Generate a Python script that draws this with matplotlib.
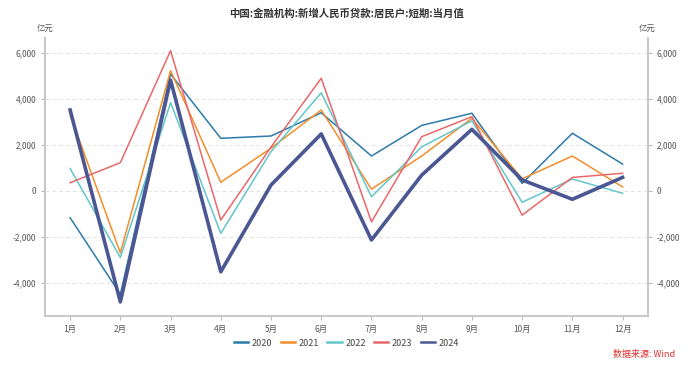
import matplotlib
matplotlib.use("Agg")
import matplotlib.pyplot as plt
from matplotlib.lines import Line2D
import numpy as np

plt.rcParams['font.family'] = ['Noto Sans CJK SC', 'DejaVu Sans']

months = ["1月", "2月", "3月", "4月", "5月", "6月", "7月", "8月", "9月", "10月", "11月", "12月"]
y2020 = [-1170, -4500, 5070, 2280, 2380, 3390, 1510, 2840, 3370, 320, 2500, 1160]
y2021 = [3300, -2700, 5220, 370, 1850, 3510, 70, 1510, 3150, 520, 1510, 170]
y2022 = [970, -2900, 3830, -1850, 1700, 4260, -260, 1910, 3040, -500, 510, -110]
y2023 = [350, 1220, 6090, -1270, 1900, 4890, -1350, 2350, 3220, -1060, 580, 760]
y2024 = [3510, -4830, 4810, -3520, 250, 2470, -2140, 680, 2670, 470, -370, 580]

series = [("2020", y2020, "#2b7bab", 1.1),
          ("2021", y2021, "#f28e2b", 1.1),
          ("2022", y2022, "#63c6c9", 1.1),
          ("2023", y2023, "#e8686a", 1.1),
          ("2024", y2024, "#4a5792", 2.6)]

fig = plt.figure(figsize=(6.93, 3.67), dpi=100)
ax = fig.add_axes([45 / 693, 1 - 315.7 / 367, (647.7 - 45) / 693, (315.7 - 38) / 367])

x = np.arange(1, 13)
for name, vals, col, lw in series:
    ax.plot(x, vals, color=col, lw=lw, label=name)

ax.set_xlim(0.5, 12.5)
ax.set_ylim(-5430, 6640)
ax.set_xticks(x)
ax.set_xticklabels(months)
ticks = [-4000, -2000, 0, 2000, 4000, 6000]
ax.set_yticks(ticks)
ax.set_yticklabels([f"{t:,}" for t in ticks])
ax.grid(axis="y", color="#e3e3e3", ls=(0, (4, 3)), lw=0.7)
ax.set_axisbelow(True)

ax.spines["top"].set_visible(False)
ax.spines["right"].set_visible(False)
for s in ["left", "bottom"]:
    ax.spines[s].set_color("#c8c8c8")
    ax.spines[s].set_linewidth(1.5)
ax.tick_params(colors="#bbbbbb", labelcolor="#555555", labelsize=6, length=3, width=0.8)

ax2 = ax.twinx()
ax2.set_ylim(ax.get_ylim())
ax2.set_yticks(ticks)
ax2.set_yticklabels([f"{t:,}" for t in ticks])
for s in ["top", "left", "bottom"]:
    ax2.spines[s].set_visible(False)
ax2.spines["right"].set_color("#c8c8c8")
ax2.spines["right"].set_linewidth(1.5)
ax2.tick_params(colors="#bbbbbb", labelcolor="#555555", labelsize=6, length=3, width=0.8)

fig.text(0.5, 1 - 13 / 367, "中国:金融机构:新增人民币贷款:居民户:短期:当月值", ha="center", va="center",
         fontsize=7.5, fontweight="bold", color="#333333")
fig.text(45 / 693, 1 - 28 / 367, "亿元", ha="center", va="center", fontsize=6, color="#555555")
fig.text(647 / 693, 1 - 28 / 367, "亿元", ha="center", va="center", fontsize=6, color="#555555")

handles = [Line2D([], [], color=col, lw=1.8) for _, _, col, _ in series]
labels = [name for name, _, _, _ in series]
ax.legend(handles, labels, loc="center", bbox_to_anchor=(0.5, 1 - 343 / 367), bbox_transform=fig.transFigure,
          ncol=5, frameon=False, fontsize=6.5, handlelength=1.6, columnspacing=0.9,
          handletextpad=0.4, labelcolor="#444444")
fig.text(675 / 693, 1 - 355 / 367, "数据来源: Wind", ha="right", va="center", fontsize=6.5, color="#e0302d")

fig.savefig("out.png", dpi=100)
